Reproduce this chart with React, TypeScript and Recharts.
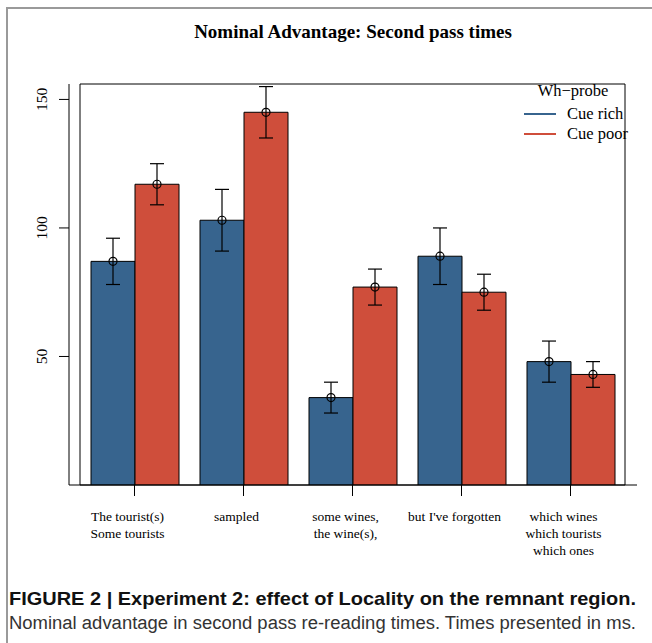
import React from "react";
import { BarChart, Bar, XAxis, YAxis, ErrorBar, Legend, ReferenceArea } from "recharts";

const categories = [
  ["The tourist(s)", "Some tourists"],
  ["sampled"],
  ["some wines,", "the wine(s),"],
  ["but I've forgotten"],
  ["which wines", "which tourists", "which ones"],
];
const cueRich = [87, 103, 34, 89, 48];
const cueRichLow = [78, 91, 28, 78, 40];
const cueRichHigh = [96, 115, 40, 100, 56];
const cuePoor = [117, 145, 77, 75, 43];
const cuePoorLow = [109, 135, 70, 68, 38];
const cuePoorHigh = [125, 155, 84, 82, 48];
const yTicks = [50, 100, 150];

const BLUE = "#37648e";
const RED = "#cf4e3b";

const data = categories.map((c, i) => ({
  name: c.join("\n"),
  rich: cueRich[i],
  richErr: [cueRich[i] - cueRichLow[i], cueRichHigh[i] - cueRich[i]],
  poor: cuePoor[i],
  poorErr: [cuePoor[i] - cuePoorLow[i], cuePoorHigh[i] - cuePoor[i]],
}));

const serif = "'Liberation Serif', 'DejaVu Serif', serif";
const sans = "'Liberation Sans Narrow', 'Liberation Sans', Arial, sans-serif";

const XTick = (props: any) => {
  const { x, y, payload } = props;
  const lines = String(payload.value).split("\n");
  return (
    <g>
      {lines.map((l: string, i: number) => (
        <text key={i} x={x - 7} y={y + 23 + i * 17} textAnchor="middle" fontFamily={serif} fontSize={13.5} fill="#000">
          {l}
        </text>
      ))}
    </g>
  );
};

const YTick = (props: any) => {
  const { x, y, payload } = props;
  const bx = x - 10;
  return (
    <text x={bx} y={y} transform={`rotate(-90 ${bx} ${y})`} textAnchor="middle" fontFamily={serif} fontSize={15.5} fill="#000">
      {payload.value}
    </text>
  );
};

const Mean = (props: any) => {
  const { x, y, width } = props;
  if (x == null) return null;
  return <circle cx={x + width / 2} cy={y} r={4} fill="none" stroke="#000" strokeWidth={1.2} />;
};

const LegendContent = () => (
  <svg width={130} height={70} style={{ display: "block" }}>
    <text x={68} y={19} textAnchor="middle" fontFamily={serif} fontSize={16.5} fill="#000">Wh−probe</text>
    <line x1={19} x2={51} y1={37} y2={37} stroke={BLUE} strokeWidth={2} />
    <text x={62} y={42} fontFamily={serif} fontSize={16.5} fill="#000">Cue rich</text>
    <line x1={19} x2={51} y1={57} y2={57} stroke={RED} strokeWidth={2} />
    <text x={62} y={62} fontFamily={serif} fontSize={16.5} fill="#000">Cue poor</text>
  </svg>
);

export default function App() {
  return (
    <div style={{ position: "absolute", left: 0, top: 0, width: 652, height: 643, background: "#fff", overflow: "hidden" }}>
      <div style={{ position: "absolute", left: 6, top: 7, width: 646, height: 636, borderTop: "2px solid #9a9a9a", borderLeft: "2px solid #9a9a9a" }} />
      <div style={{ position: "absolute", left: 69, width: 568, top: 21, textAlign: "center", fontFamily: serif, fontWeight: "bold", fontSize: 19, color: "#000" }}>
        Nominal Advantage: Second pass times
      </div>
      <div style={{ position: "absolute", left: 0, top: 0 }}>
        <BarChart width={652} height={643} data={data} margin={{ top: 84, right: 15, bottom: 83, left: 9 }} barGap={0} barSize={44}>
          <XAxis dataKey="name" height={75} tick={<XTick />} tickSize={11} interval={0} padding={{ left: 11, right: 12 }} axisLine={{ stroke: "#000" }} tickLine={{ stroke: "#000" }} />
          <YAxis domain={[0, 156]} ticks={yTicks} width={60} tick={<YTick />} tickSize={10} axisLine={{ stroke: "#000" }} tickLine={{ stroke: "#000" }} allowDataOverflow />
          <Legend layout="horizontal" verticalAlign="middle" align="center" wrapperStyle={{ top: 77, left: 505, width: 130, height: 70 }} content={<LegendContent />} />
          <Bar dataKey="rich" fill={BLUE} stroke="#000" strokeWidth={1} isAnimationActive={false} label={<Mean />}>
            <ErrorBar dataKey="richErr" width={7} stroke="#000" strokeWidth={1.2} direction="y" />
          </Bar>
          <Bar dataKey="poor" fill={RED} stroke="#000" strokeWidth={1} isAnimationActive={false} label={<Mean />}>
            <ErrorBar dataKey="poorErr" width={7} stroke="#000" strokeWidth={1.2} direction="y" />
          </Bar>
          <ReferenceArea y1={0} y2={156} fill="none" fillOpacity={0} stroke="#000" strokeWidth={1} ifOverflow="visible" />
        </BarChart>
      </div>
      <svg style={{ position: "absolute", left: 0, top: 580 }} width={652} height={63}>
        <text x={9} y={25} fontFamily={sans} fontWeight="bold" fontSize={19} fill="#111" textLength={627} lengthAdjust="spacingAndGlyphs">
          FIGURE 2 | Experiment 2: effect of Locality on the remnant region.
        </text>
        <text x={9} y={49} fontFamily={sans} fontSize={18} fill="#333" textLength={627} lengthAdjust="spacingAndGlyphs">
          Nominal advantage in second pass re-reading times. Times presented in ms.
        </text>
      </svg>
    </div>
  );
}
